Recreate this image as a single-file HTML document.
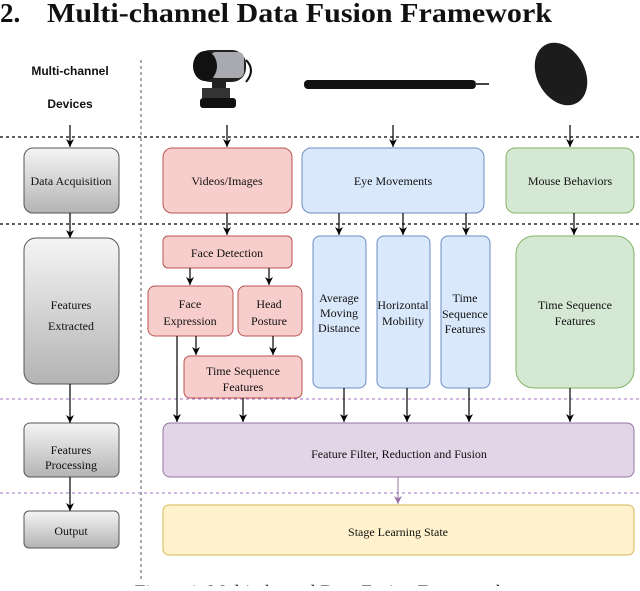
<!DOCTYPE html>
<html><head><meta charset="utf-8"><style>
body{margin:0;background:#fff;width:640px;height:586px;overflow:hidden}
svg text{font-family:"Liberation Serif",serif;font-size:12px;fill:#111}
</style></head><body>
<svg width="640" height="586" viewBox="0 0 640 586" xmlns="http://www.w3.org/2000/svg">
<defs>
<marker id="b" viewBox="0 0 10 10" refX="10" refY="5" markerWidth="8" markerHeight="8" orient="auto" markerUnits="userSpaceOnUse"><path d="M0,0 L10,5 L0,10 L3,5 Z" fill="#000"/></marker>
<marker id="p" viewBox="0 0 10 10" refX="10" refY="5" markerWidth="8" markerHeight="8" orient="auto" markerUnits="userSpaceOnUse"><path d="M0,0 L10,5 L0,10 L3,5 Z" fill="#9673a6"/></marker>
<linearGradient id="g" x1="0" y1="0" x2="0" y2="1"><stop offset="0" stop-color="#f5f5f5"/><stop offset="1" stop-color="#b3b3b3"/></linearGradient>
</defs>
<text x="0" y="22" style="font-size:27px;font-weight:bold">2.</text>
<text x="47" y="22" textLength="505" lengthAdjust="spacingAndGlyphs" style="font-size:27px;font-weight:bold">Multi-channel Data Fusion Framework</text>
<text x="70" y="75" text-anchor="middle" style="font-family:'Liberation Sans',sans-serif;font-size:12px;font-weight:bold">Multi-channel</text>
<text x="70" y="108" text-anchor="middle" style="font-family:'Liberation Sans',sans-serif;font-size:12px;font-weight:bold">Devices</text>
<!-- icons -->
<g>
<rect x="196" y="50" width="50" height="32" rx="14" fill="#222"/>
<rect x="210" y="52" width="34" height="26" rx="6" fill="#a8aab0"/>
<ellipse cx="205" cy="66" rx="12" ry="15" fill="#111"/>
<path d="M246,60 Q256,70 246,82" stroke="#111" stroke-width="2" fill="none"/>
<rect x="212" y="80" width="14" height="10" fill="#222"/>
<rect x="202" y="88" width="28" height="10" fill="#333"/>
<rect x="200" y="98" width="36" height="10" rx="3" fill="#111"/>
<rect x="304" y="80" width="172" height="9" rx="4" fill="#111"/>
<rect x="475" y="83" width="14" height="2" fill="#444"/>
<ellipse cx="561" cy="74" rx="24" ry="33" transform="rotate(-28 561 74)" fill="#1c1c1c"/>
</g>
<!-- dashed lines -->
<line x1="141" y1="60" x2="141" y2="580" stroke="#555" stroke-dasharray="3,3"/>
<line x1="0" y1="137" x2="640" y2="137" stroke="#000" stroke-dasharray="3,3" stroke-width="1.2"/>
<line x1="0" y1="224" x2="640" y2="224" stroke="#000" stroke-dasharray="3,3" stroke-width="1.2"/>
<line x1="0" y1="399" x2="640" y2="399" stroke="#a070c0" stroke-dasharray="3,3"/>
<line x1="0" y1="493" x2="640" y2="493" stroke="#a070c0" stroke-dasharray="3,3"/>
<!-- left column -->
<g stroke="#555" fill="url(#g)">
<rect x="24" y="148" width="95" height="65" rx="9"/>
<rect x="24" y="238" width="95" height="146" rx="12"/>
<rect x="24" y="423" width="95" height="54" rx="6"/>
<rect x="24" y="511" width="95" height="37" rx="5"/>
</g>
<text x="71" y="185" text-anchor="middle">Data Acquisition</text>
<text x="71" y="309" text-anchor="middle">Features</text>
<text x="71" y="330" text-anchor="middle">Extracted</text>
<text x="71" y="454" text-anchor="middle">Features</text>
<text x="71" y="469" text-anchor="middle">Processing</text>
<text x="71" y="535" text-anchor="middle">Output</text>
<!-- top boxes -->
<rect x="163" y="148" width="129" height="65" rx="9" fill="#f8cecc" stroke="#b85450"/>
<rect x="302" y="148" width="182" height="65" rx="9" fill="#dae8fc" stroke="#6c8ebf"/>
<rect x="506" y="148" width="128" height="65" rx="9" fill="#d5e8d4" stroke="#82b366"/>
<text x="227" y="185" text-anchor="middle">Videos/Images</text>
<text x="393" y="185" text-anchor="middle">Eye Movements</text>
<text x="570" y="185" text-anchor="middle">Mouse Behaviors</text>
<!-- red features -->
<g fill="#f8cecc" stroke="#b85450">
<rect x="163" y="236" width="129" height="32" rx="5"/>
<rect x="148" y="286" width="85" height="50" rx="7"/>
<rect x="238" y="286" width="64" height="50" rx="7"/>
<rect x="184" y="356" width="118" height="42" rx="6"/>
</g>
<text x="227" y="257" text-anchor="middle">Face Detection</text>
<text x="190" y="308" text-anchor="middle">Face</text>
<text x="190" y="325" text-anchor="middle">Expression</text>
<text x="269" y="308" text-anchor="middle">Head</text>
<text x="269" y="325" text-anchor="middle">Posture</text>
<text x="243" y="375" text-anchor="middle">Time Sequence</text>
<text x="243" y="391" text-anchor="middle">Features</text>
<!-- blue -->
<g fill="#dae8fc" stroke="#6c8ebf">
<rect x="313" y="236" width="53" height="152" rx="7"/>
<rect x="377" y="236" width="53" height="152" rx="7"/>
<rect x="441" y="236" width="49" height="152" rx="7"/>
</g>
<text x="339" y="302" text-anchor="middle">Average</text>
<text x="339" y="317" text-anchor="middle">Moving</text>
<text x="339" y="332" text-anchor="middle">Distance</text>
<text x="403" y="309" text-anchor="middle">Horizontal</text>
<text x="403" y="325" text-anchor="middle">Mobility</text>
<text x="465" y="302" text-anchor="middle">Time</text>
<text x="465" y="318" text-anchor="middle">Sequence</text>
<text x="465" y="333" text-anchor="middle">Features</text>
<rect x="516" y="236" width="118" height="152" rx="18" fill="#d5e8d4" stroke="#82b366"/>
<text x="575" y="309" text-anchor="middle">Time Sequence</text>
<text x="575" y="325" text-anchor="middle">Features</text>
<!-- bottom -->
<rect x="163" y="423" width="471" height="54" rx="7" fill="#e1d5e7" stroke="#9673a6"/>
<text x="399" y="458" text-anchor="middle">Feature Filter, Reduction and  Fusion</text>
<rect x="163" y="505" width="471" height="50" rx="6" fill="#fff2cc" stroke="#d6b656"/>
<text x="398" y="536" text-anchor="middle">Stage Learning State</text>
<text x="320" y="598" text-anchor="middle" style="font-size:19px">Figure 1. Multi-channel Data Fusion Framework</text>
<!-- arrows -->
<g stroke="#000" stroke-width="1.2" marker-end="url(#b)">
<line x1="70" y1="125" x2="70" y2="147"/>
<line x1="70" y1="213" x2="70" y2="238"/>
<line x1="70" y1="384" x2="70" y2="423"/>
<line x1="70" y1="477" x2="70" y2="511"/>
<line x1="227" y1="125" x2="227" y2="147"/>
<line x1="393" y1="125" x2="393" y2="147"/>
<line x1="570" y1="125" x2="570" y2="147"/>
<line x1="227" y1="213" x2="227" y2="235"/>
<line x1="339" y1="213" x2="339" y2="235"/>
<line x1="403" y1="213" x2="403" y2="235"/>
<line x1="466" y1="213" x2="466" y2="235"/>
<line x1="574" y1="213" x2="574" y2="235"/>
<line x1="190" y1="268" x2="190" y2="285"/>
<line x1="269" y1="268" x2="269" y2="285"/>
<line x1="196" y1="336" x2="196" y2="355"/>
<line x1="273" y1="336" x2="273" y2="355"/>
<line x1="177" y1="336" x2="177" y2="422"/>
<line x1="243" y1="398" x2="243" y2="422"/>
<line x1="344" y1="388" x2="344" y2="422"/>
<line x1="407" y1="388" x2="407" y2="422"/>
<line x1="469" y1="388" x2="469" y2="422"/>
<line x1="570" y1="388" x2="570" y2="422"/>
</g>
<line x1="398" y1="477" x2="398" y2="504" stroke="#9673a6" marker-end="url(#p)"/>
</svg>
</body></html>
